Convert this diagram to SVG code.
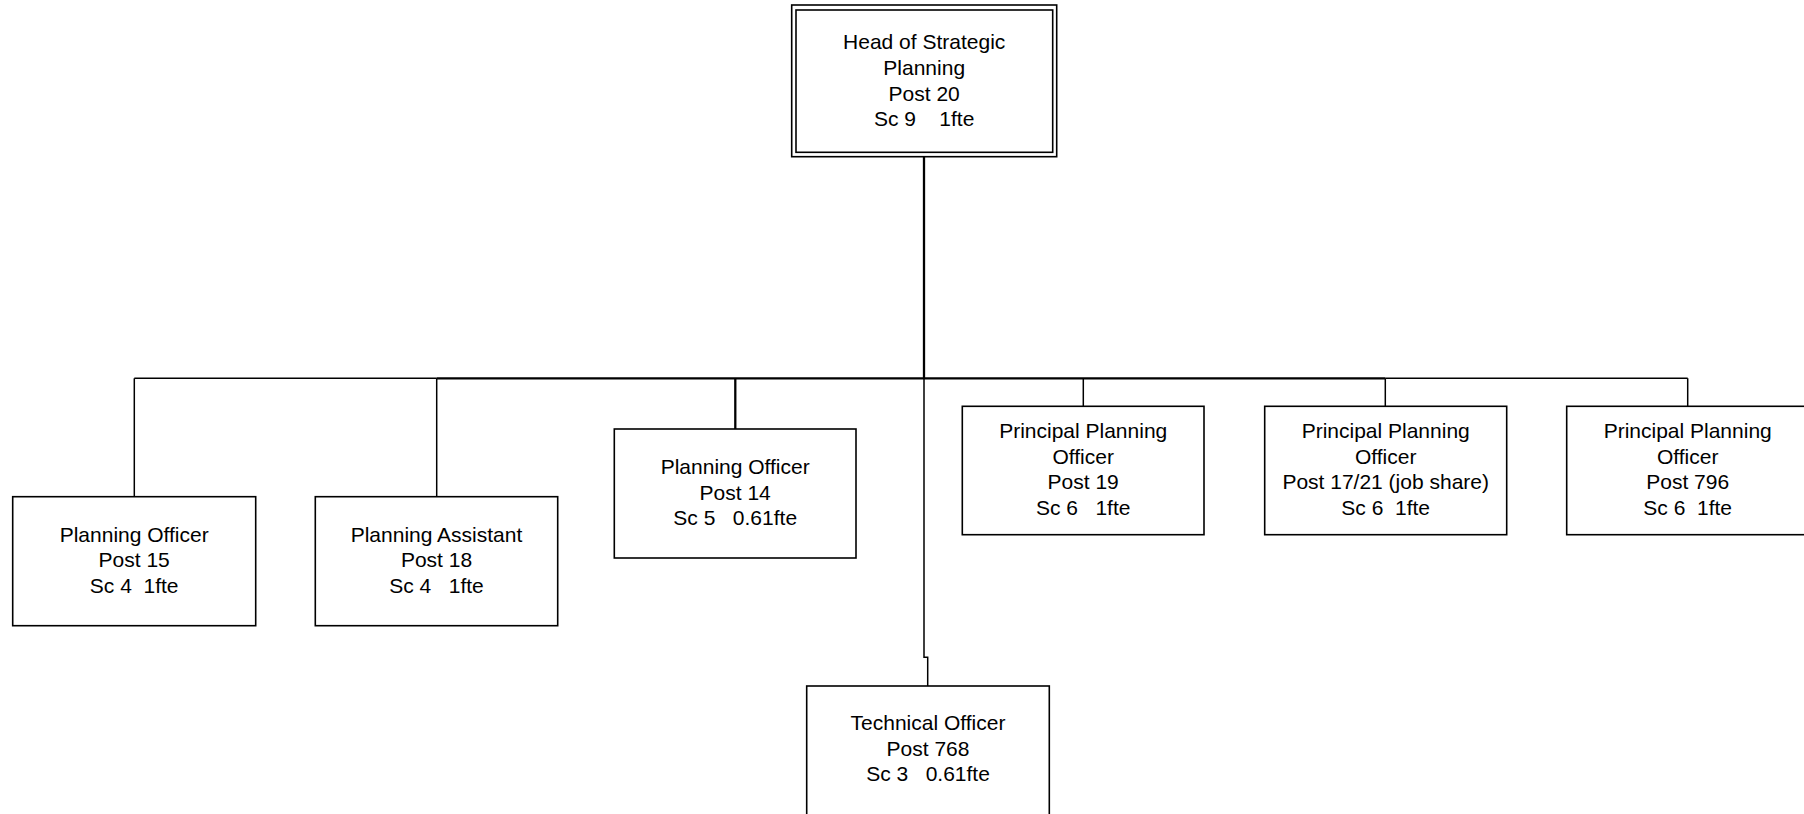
<svg xmlns="http://www.w3.org/2000/svg" width="1804" height="814" viewBox="0 0 1804 814">
<style>
.box{fill:#ffffff;stroke:#000000;stroke-width:1.6}
.lbl{font-family:"Liberation Sans",Arial,sans-serif;font-size:21px;fill:#000000;text-anchor:middle;white-space:pre}
.ln{fill:none;stroke:#000000;stroke-width:1.5}
.thick{fill:none;stroke:#000000;stroke-width:2.3}
</style>
<rect x="0" y="0" width="1804" height="814" fill="#ffffff"/>
<g id="connectors">
<line class="thick" x1="924" y1="156.7" x2="924" y2="378.3" stroke-width="2.6"/>
<line class="ln" x1="134.3" y1="378.3" x2="436.7" y2="378.3"/>
<line class="thick" x1="436.7" y1="378.3" x2="1385.3" y2="378.3"/>
<line class="ln" x1="1385.3" y1="378.3" x2="1687.7" y2="378.3"/>
<line class="ln" x1="134.3" y1="378.3" x2="134.3" y2="496.7"/>
<line class="ln" x1="436.7" y1="378.3" x2="436.7" y2="496.7"/>
<line class="thick" x1="735.3" y1="378.3" x2="735.3" y2="429"/>
<line class="ln" x1="1083.3" y1="378.3" x2="1083.3" y2="406.3"/>
<line class="ln" x1="1385.3" y1="378.3" x2="1385.3" y2="406.3"/>
<line class="ln" x1="1687.7" y1="378.3" x2="1687.7" y2="406.3"/>
<polyline class="ln" points="924,378.3 924,657.3 927.7,657.3 927.7,686"/>
</g>
<g id="head">
<rect class="box" x="791.7" y="5" width="265" height="151.7"/>
<rect class="box" x="796" y="10" width="256.7" height="142.3"/>
<text class="lbl" x="924.2" y="49.3">Head of Strategic</text>
<text class="lbl" x="924.2" y="75">Planning</text>
<text class="lbl" x="924.2" y="100.7">Post 20</text>
<text class="lbl" x="924.2" y="126.3">Sc 9    1fte</text>
</g>
<g id="po15">
<rect class="box" x="12.7" y="496.7" width="243" height="129"/>
<text class="lbl" x="134.2" y="541.7">Planning Officer</text>
<text class="lbl" x="134.2" y="567.3">Post 15</text>
<text class="lbl" x="134.2" y="592.8">Sc 4  1fte</text>
</g>
<g id="pa18">
<rect class="box" x="315.3" y="496.7" width="242.4" height="129"/>
<text class="lbl" x="436.5" y="541.7">Planning Assistant</text>
<text class="lbl" x="436.5" y="567.3">Post 18</text>
<text class="lbl" x="436.5" y="592.8">Sc 4   1fte</text>
</g>
<g id="po14">
<rect class="box" x="614.3" y="429" width="241.7" height="129"/>
<text class="lbl" x="735.2" y="474">Planning Officer</text>
<text class="lbl" x="735.2" y="499.5">Post 14</text>
<text class="lbl" x="735.2" y="525">Sc 5   0.61fte</text>
</g>
<g id="ppo19">
<rect class="box" x="962.3" y="406.3" width="241.7" height="128.4"/>
<text class="lbl" x="1083.2" y="438.3">Principal Planning</text>
<text class="lbl" x="1083.2" y="463.8">Officer</text>
<text class="lbl" x="1083.2" y="489.3">Post 19</text>
<text class="lbl" x="1083.2" y="514.8">Sc 6   1fte</text>
</g>
<g id="ppo1721">
<rect class="box" x="1264.7" y="406.3" width="242" height="128.4"/>
<text class="lbl" x="1385.7" y="438.3">Principal Planning</text>
<text class="lbl" x="1385.7" y="463.8">Officer</text>
<text class="lbl" x="1385.7" y="489.3">Post 17/21 (job share)</text>
<text class="lbl" x="1385.7" y="514.8">Sc 6  1fte</text>
</g>
<g id="ppo796">
<rect class="box" x="1566.7" y="406.3" width="242" height="128.4"/>
<text class="lbl" x="1687.7" y="438.3">Principal Planning</text>
<text class="lbl" x="1687.7" y="463.8">Officer</text>
<text class="lbl" x="1687.7" y="489.3">Post 796</text>
<text class="lbl" x="1687.7" y="514.8">Sc 6  1fte</text>
</g>
<g id="to768">
<rect class="box" x="806.7" y="686" width="242.6" height="129"/>
<text class="lbl" x="928" y="730">Technical Officer</text>
<text class="lbl" x="928" y="755.7">Post 768</text>
<text class="lbl" x="928" y="781.4">Sc 3   0.61fte</text>
</g>
</svg>
